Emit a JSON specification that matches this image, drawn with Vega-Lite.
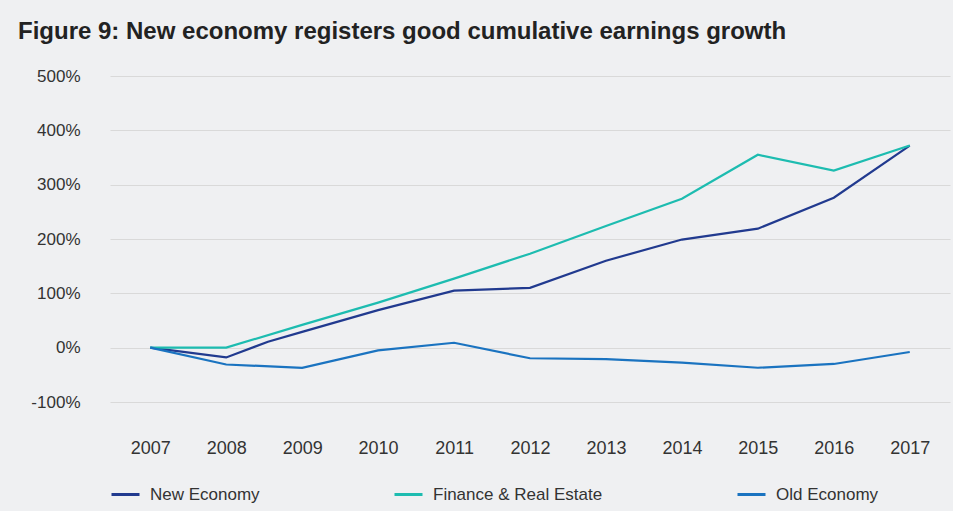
{
  "$schema": "https://vega.github.io/schema/vega-lite/v6.json",
  "autosize": {"type": "none"},
  "width": 840,
  "height": 326,
  "padding": {"left": 110, "top": 76, "right": 3, "bottom": 109},
  "background": "#eff0f2",
  "title": {
    "text": "Figure 9: New economy registers good cumulative earnings growth",
    "anchor": "start",
    "frame": "group",
    "dx": -92,
    "offset": 23,
    "font": "Liberation Sans",
    "fontSize": 24,
    "fontWeight": "bold",
    "color": "#222222"
  },
  "data": {
    "values": [
      {"year": 2007, "series": "New Economy", "value": 0},
      {"year": 2008, "series": "New Economy", "value": -18},
      {"year": 2008.55, "series": "New Economy", "value": 11},
      {"year": 2009, "series": "New Economy", "value": 29},
      {"year": 2010, "series": "New Economy", "value": 69},
      {"year": 2011, "series": "New Economy", "value": 105},
      {"year": 2012, "series": "New Economy", "value": 110},
      {"year": 2013, "series": "New Economy", "value": 160},
      {"year": 2014, "series": "New Economy", "value": 199},
      {"year": 2015, "series": "New Economy", "value": 219},
      {"year": 2016, "series": "New Economy", "value": 276},
      {"year": 2017, "series": "New Economy", "value": 372},
      {"year": 2007, "series": "Finance & Real Estate", "value": 0},
      {"year": 2008, "series": "Finance & Real Estate", "value": 0},
      {"year": 2009, "series": "Finance & Real Estate", "value": 42},
      {"year": 2010, "series": "Finance & Real Estate", "value": 83},
      {"year": 2011, "series": "Finance & Real Estate", "value": 127},
      {"year": 2012, "series": "Finance & Real Estate", "value": 173},
      {"year": 2013, "series": "Finance & Real Estate", "value": 224},
      {"year": 2014, "series": "Finance & Real Estate", "value": 274},
      {"year": 2015, "series": "Finance & Real Estate", "value": 355},
      {"year": 2016, "series": "Finance & Real Estate", "value": 326},
      {"year": 2017, "series": "Finance & Real Estate", "value": 372},
      {"year": 2007, "series": "Old Economy", "value": 0},
      {"year": 2008, "series": "Old Economy", "value": -31},
      {"year": 2009, "series": "Old Economy", "value": -37},
      {"year": 2010, "series": "Old Economy", "value": -5},
      {"year": 2011, "series": "Old Economy", "value": 9},
      {"year": 2012, "series": "Old Economy", "value": -19.5},
      {"year": 2013, "series": "Old Economy", "value": -21},
      {"year": 2014, "series": "Old Economy", "value": -27.5},
      {"year": 2015, "series": "Old Economy", "value": -37},
      {"year": 2016, "series": "Old Economy", "value": -30},
      {"year": 2017, "series": "Old Economy", "value": -8}
    ]
  },
  "mark": {"type": "line", "strokeWidth": 2.2},
  "encoding": {
    "x": {
      "field": "year",
      "type": "quantitative",
      "scale": {"domain": [2006.47, 2017.53], "nice": false, "zero": false},
      "axis": {
        "title": null,
        "values": [2007, 2008, 2009, 2010, 2011, 2012, 2013, 2014, 2015, 2016, 2017],
        "format": "d",
        "grid": false,
        "domain": false,
        "ticks": false,
        "labelPadding": 37,
        "labelFont": "Liberation Sans",
        "labelFontSize": 18,
        "labelColor": "#333333"
      }
    },
    "y": {
      "field": "value",
      "type": "quantitative",
      "scale": {"domain": [-100, 500], "nice": false},
      "axis": {
        "title": null,
        "values": [-100, 0, 100, 200, 300, 400, 500],
        "labelExpr": "datum.value + '%'",
        "grid": true,
        "gridColor": "#d9d9d9",
        "gridWidth": 1,
        "domain": false,
        "ticks": false,
        "labelPadding": 30,
        "labelFont": "Liberation Sans",
        "labelFontSize": 17,
        "labelColor": "#333333"
      }
    },
    "color": {
      "field": "series",
      "type": "nominal",
      "sort": ["New Economy", "Finance & Real Estate", "Old Economy"],
      "scale": {
        "domain": ["New Economy", "Finance & Real Estate", "Old Economy"],
        "range": ["#213a8f", "#1dbcb0", "#1a73c0"]
      },
      "legend": {
        "title": null,
        "orient": "bottom",
        "direction": "horizontal",
        "columns": 3,
        "columnPadding": 128,
        "symbolType": "stroke",
        "symbolSize": 784,
        "symbolStrokeWidth": 3,
        "labelOffset": 9,
        "labelLimit": 400,
        "labelFont": "Liberation Sans",
        "labelFontSize": 17,
        "labelColor": "#333333",
        "offset": 22
      }
    }
  },
  "config": {
    "view": {"stroke": null},
    "legend": {"gridAlign": "none"}
  }
}
